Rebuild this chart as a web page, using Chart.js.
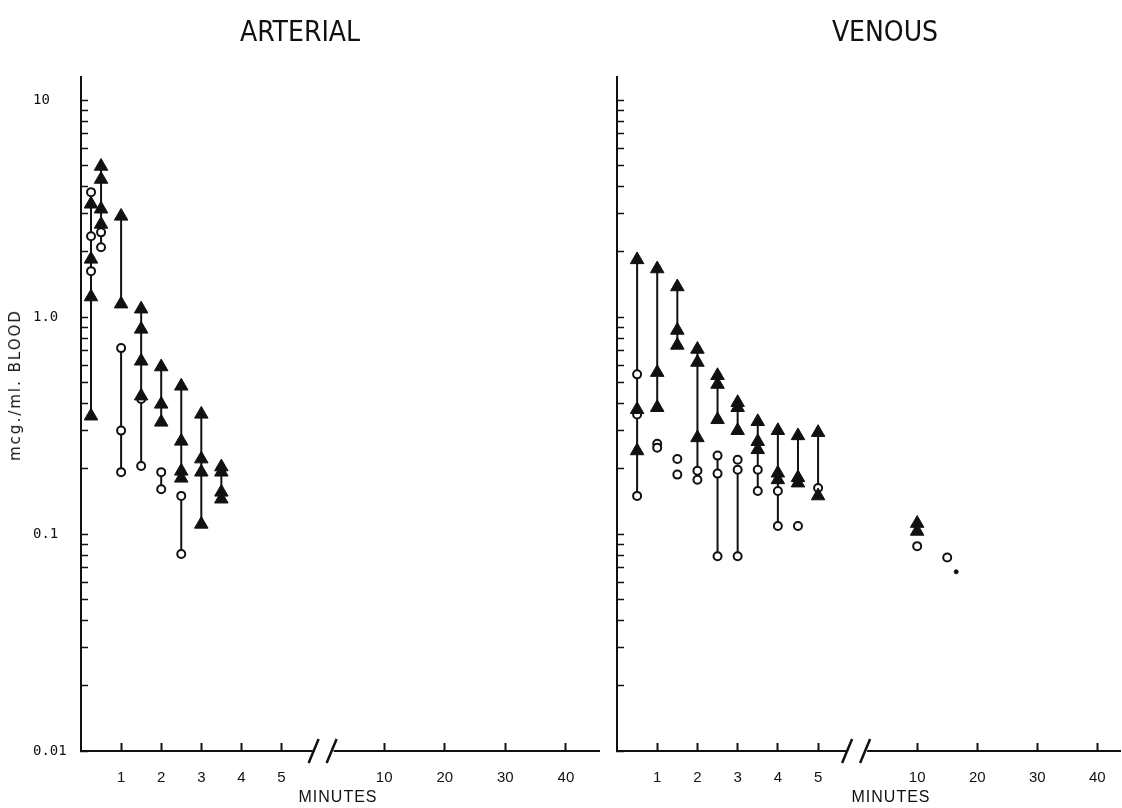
<!DOCTYPE html>
<html>
<head>
<meta charset="utf-8">
<title>Arterial and venous blood levels</title>
<script src="https://cdn.jsdelivr.net/npm/chart.js@4.4.1/dist/chart.umd.min.js"></script>
<style>
  body { margin: 0; background: #fff; }
  #page { position: relative; width: 1122px; height: 808px; overflow: hidden; color: #111; }
  canvas { position: absolute; top: 0; }
  #arterial { left: 0; }
  #venous { left: 605px; }
  .label { position: absolute; white-space: nowrap; transform: translate(-50%, -50%); }
  .panel-title { font: 28px "Liberation Sans Narrow", "DejaVu Sans Condensed", sans-serif; top: 31px; }
  .x-title { font: 16px "Liberation Sans", Arial, sans-serif; letter-spacing: 1px; top: 797px; }
  .y-title { font: 15px "DejaVu Sans", sans-serif; letter-spacing: 2px; left: 15px; top: 385px;
             transform: translate(-50%, -50%) rotate(-90deg); }
</style>
</head>
<body>
<div id="page">
  <canvas id="arterial" width="608" height="808"></canvas>
  <canvas id="venous" width="524" height="808"></canvas>
  <div class="label panel-title" style="left:300px">ARTERIAL</div>
  <div class="label panel-title" style="left:885px">VENOUS</div>
  <div class="label x-title" style="left:338px">MINUTES</div>
  <div class="label x-title" style="left:891px">MINUTES</div>
  <div class="label y-title">mcg./ml. BLOOD</div>
</div>
<script>
// axis labels
const yTickValues = [0.01, 0.1, 1, 10];
const yTickText = ['0.01', '0.1', '1.0', '10'];
const earlyTicks = [1, 2, 3, 4, 5];
const lateTicks = [10, 20, 30, 40];

// ARTERIAL - closed triangles (minutes, mcg/ml)
const artTriMin = [0.25, 0.25, 0.25, 0.25, 0.5, 0.5, 0.5, 0.5, 1, 1, 1.5, 1.5, 1.5, 1.5,
                   2, 2, 2, 2.5, 2.5, 2.5, 2.5, 3, 3, 3, 3, 3.5, 3.5, 3.5, 3.5];
const artTriVal = [3.32, 1.85, 1.24, 0.35, 4.96, 4.32, 3.15, 2.68, 2.92, 1.15, 1.09, 0.88, 0.627, 0.433,
                   0.59, 0.397, 0.328, 0.481, 0.268, 0.195, 0.181, 0.357, 0.222, 0.193, 0.111, 0.204, 0.193, 0.156, 0.145];
// ARTERIAL - open circles
const artCircMin = [0.25, 0.25, 0.25, 0.5, 0.5, 1, 1, 1, 1.5, 1.5, 2, 2, 2.5, 2.5];
const artCircVal = [3.77, 2.36, 1.63, 2.46, 2.10, 0.72, 0.30, 0.193, 0.42, 0.206, 0.193, 0.161, 0.150, 0.081];
// ARTERIAL - vertical range lines [minute, top, bottom]
const artBars = [[0.25, 3.77, 0.35], [0.5, 4.96, 2.10], [1, 2.92, 1.15], [1, 0.72, 0.193], [1.5, 1.09, 0.206],
                 [2, 0.59, 0.328], [2, 0.193, 0.161], [2.5, 0.481, 0.181], [2.5, 0.150, 0.081],
                 [3, 0.357, 0.111], [3.5, 0.204, 0.145]];

// VENOUS - closed triangles
const venTriMin = [0.5, 0.5, 0.5, 1, 1, 1, 1.5, 1.5, 1.5, 2, 2, 2, 2.5, 2.5, 2.5, 3, 3, 3,
                   3.5, 3.5, 3.5, 4, 4, 4, 4.5, 4.5, 4.5, 5, 5, 10, 10];
const venTriVal = [1.84, 0.375, 0.242, 1.67, 0.556, 0.383, 1.38, 0.87, 0.742, 0.711, 0.619, 0.278,
                   0.538, 0.49, 0.337, 0.404, 0.383, 0.30, 0.33, 0.267, 0.245, 0.30, 0.191, 0.178,
                   0.284, 0.182, 0.172, 0.294, 0.15, 0.112, 0.103];
// VENOUS - open circles
const venCircMin = [0.5, 0.5, 0.5, 1, 1, 1.5, 1.5, 2, 2, 2.5, 2.5, 2.5, 3, 3, 3, 3.5, 3.5, 4, 4, 4.5, 5, 10, 15];
const venCircVal = [0.545, 0.356, 0.150, 0.261, 0.25, 0.222, 0.188, 0.196, 0.178, 0.23, 0.19, 0.079,
                    0.22, 0.198, 0.079, 0.198, 0.158, 0.158, 0.109, 0.109, 0.163, 0.088, 0.078];
// VENOUS - small dot
const venDotMin = [16.5];
const venDotVal = [0.067];
// VENOUS - vertical range lines
const venBars = [[0.5, 1.84, 0.150], [1, 1.67, 0.383], [1.5, 1.38, 0.742], [2, 0.711, 0.178],
                 [2.5, 0.538, 0.337], [2.5, 0.23, 0.079], [3, 0.404, 0.30], [3, 0.198, 0.079],
                 [3.5, 0.33, 0.158], [4, 0.30, 0.109], [4.5, 0.284, 0.172], [5, 0.294, 0.15]];

const INK = '#111';
const BREAK = 6; // later times go on the compressed part after the axis break

function points(mins, vals) {
  return mins.map((x, i) => ({ x, y: vals[i] }));
}

function barPoints(bars) {
  const out = [];
  bars.forEach(([x, hi, lo]) => out.push({ x, y: hi }, { x, y: lo }, { x, y: null }));
  return out;
}

function onAxis(pts, id) {
  return pts.filter(p => (id === 'xa') === (p.x < BREAK));
}

function datasets(tri, circ, dots, bars) {
  const sets = [];
  ['xa', 'xb'].forEach(id => {
    sets.push({ data: onAxis(tri, id), xAxisID: id, pointStyle: 'triangle', pointRadius: 7.8,
                backgroundColor: INK, borderColor: INK, borderWidth: 1, order: 1 });
    sets.push({ data: onAxis(circ, id), xAxisID: id, pointStyle: 'circle', pointRadius: 4,
                backgroundColor: '#fff', borderColor: INK, borderWidth: 2, order: 2 });
    sets.push({ data: onAxis(dots, id), xAxisID: id, pointRadius: 2,
                backgroundColor: INK, borderColor: INK, order: 2 });
    sets.push({ type: 'line', data: onAxis(bars, id), xAxisID: id, borderColor: INK, borderWidth: 2,
                pointRadius: 0, spanGaps: false, order: 3 });
  });
  return sets;
}

function logTicks() {
  const t = [];
  for (let e = -2; e <= 1; e++) {
    for (let k = 1; k <= 9; k++) {
      const v = +(k * Math.pow(10, e)).toPrecision(3);
      if (v <= 10) t.push(v);
    }
  }
  return t;
}

function minuteAxis(min, max, weight, ticks) {
  return {
    type: 'linear', position: 'bottom', stack: 'minutes', stackWeight: weight, min, max,
    border: { color: INK, width: 2 },
    grid: { drawOnChartArea: false, tickLength: -8, tickColor: INK, tickWidth: 2 },
    ticks: { color: INK, font: { family: 'Liberation Sans', size: 15 }, padding: 26, autoSkip: false, maxRotation: 0 },
    afterBuildTicks: s => { s.ticks = ticks.map(value => ({ value })); },
    afterFit: s => { s.height = 57; s.paddingLeft = 0; s.paddingRight = 0; }
  };
}

function scales(o) {
  return {
    y: {
      type: 'logarithmic', position: 'left', min: 0.01, max: 12.8,
      border: { color: INK, width: 2 },
      grid: { drawOnChartArea: false, tickLength: -7, tickColor: INK, tickWidth: 1.5 },
      ticks: {
        display: o.yLabels, color: INK, font: { family: 'DejaVu Sans Mono', size: 14 },
        crossAlign: 'far', autoSkip: false,
        callback: v => {
          const i = yTickValues.findIndex(t => Math.abs(Math.log10(t) - Math.log10(v)) < 1e-6);
          return i < 0 ? '' : yTickText[i];
        }
      },
      afterBuildTicks: s => { s.ticks = logTicks().map(value => ({ value })); },
      afterFit: s => { s.width = o.yWidth; }
    },
    xa: minuteAxis(0, o.earlyMax, o.earlyW, earlyTicks),
    xb: minuteAxis(0, o.lateMax, o.lateW, lateTicks)
  };
}

// the "//" break between the two parts of the time axis
const axisBreak = {
  id: 'axisBreak',
  afterDraw(chart) {
    const { ctx } = chart;
    const xa = chart.scales.xa;
    const x = xa.right, y = xa.top;
    ctx.save();
    ctx.fillStyle = '#fff';
    ctx.fillRect(x - 9, y - 3, 19, 6);
    ctx.strokeStyle = INK;
    ctx.lineWidth = 2.5;
    ctx.beginPath();
    ctx.moveTo(x - 15, y + 12); ctx.lineTo(x - 5, y - 12);
    ctx.moveTo(x + 3, y + 12); ctx.lineTo(x + 13, y - 12);
    ctx.stroke();
    ctx.restore();
  }
};

function panel(id, sets, pad, o) {
  return new Chart(document.getElementById(id), {
    type: 'scatter',
    data: { datasets: sets },
    options: {
      responsive: false, animation: false, devicePixelRatio: 1,
      layout: { padding: { top: 77, right: pad.right, bottom: 0, left: pad.left } },
      plugins: { legend: { display: false }, tooltip: { enabled: false } },
      scales: scales(o)
    },
    plugins: [axisBreak]
  });
}

panel('arterial',
  datasets(points(artTriMin, artTriVal), points(artCircMin, artCircVal), [], barPoints(artBars)),
  { left: 33, right: 2 },
  { yLabels: true, yWidth: 48, earlyMax: 6.05, earlyW: 243, lateMax: 45.5, lateW: 276 });

panel('venous',
  datasets(points(venTriMin, venTriVal), points(venCircMin, venCircVal), points(venDotMin, venDotVal), barPoints(venBars)),
  { left: 0, right: 2 },
  { yLabels: false, yWidth: 12, earlyMax: 5.97, earlyW: 240, lateMax: 43.8, lateW: 263 });
</script>
</body>
</html>
